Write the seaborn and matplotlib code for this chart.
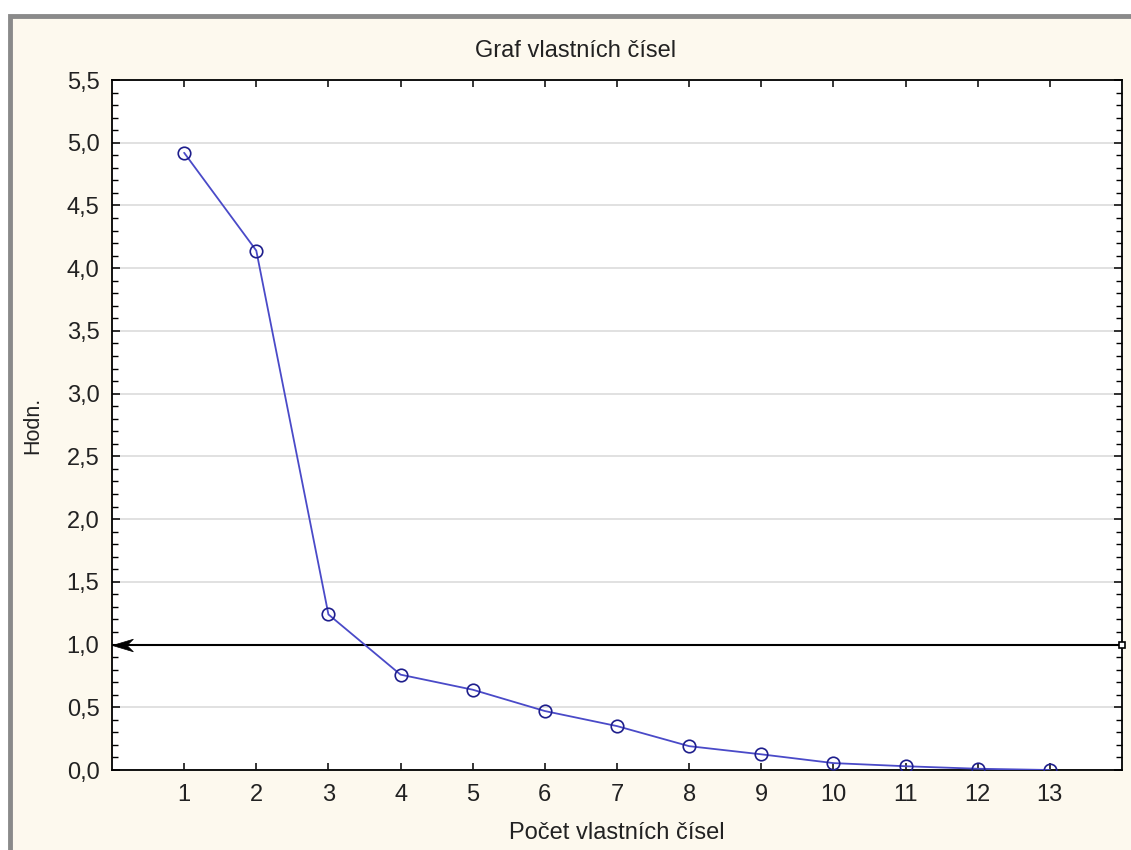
import numpy as np
import seaborn as sns
import matplotlib.pyplot as plt
from matplotlib.patches import Rectangle
from matplotlib.path import Path
from matplotlib.ticker import MultipleLocator, FuncFormatter


# scree plot values
components = [1, 2, 3, 4, 5, 6, 7, 8, 9, 10, 11, 12, 13]
eigenvalues = [4.92, 4.14, 1.24, 0.76, 0.64, 0.47, 0.35, 0.19, 0.125, 0.055, 0.03, 0.01, 0.0]
kaiser_limit = 1.0

title = "Graf vlastních čísel"
x_label = "Počet vlastních čísel"
y_label = "Hodn."

cream = "#fdf9ee"
line_color = "#4a4ac8"
edge_color = "#1e1e8c"


def arrow_marker():
    # barbed arrowhead, tip at the origin pointing left
    verts = [(0, 0), (2, 0.6), (1.4, 0), (2, -0.6), (0, 0)]
    codes = [Path.MOVETO, Path.LINETO, Path.LINETO, Path.LINETO, Path.CLOSEPOLY]
    return Path(verts, codes)


def main():
    sns.set_style("white")
    plt.rcParams['font.family'] = ['Liberation Sans', 'DejaVu Sans']

    fig = plt.figure(figsize=(11.31, 8.5), dpi=100)
    fig.patch.set_facecolor("white")
    # window frame of the original screenshot
    frame = Rectangle((10 / 1131, -0.1), 1.2, (850 - 16) / 850 + 0.1,
                      transform=fig.transFigure, facecolor=cream,
                      edgecolor="#8a8a8a", lw=3.5, zorder=-5)
    fig.add_artist(frame)

    ax = fig.add_axes([112 / 1131, 80 / 850, 1010 / 1131, 690 / 850])
    ax.set_facecolor("white")

    sns.lineplot(x=components, y=eigenvalues, ax=ax, color=line_color, lw=1.3,
                 marker="o", markersize=9, markerfacecolor="none",
                 markeredgecolor=edge_color, markeredgewidth=1.2, zorder=4)

    ax.set_xlim(0, 14)
    ax.set_ylim(0, 5.5)
    ax.set_xticks(components)
    ax.yaxis.set_major_locator(MultipleLocator(0.5))
    ax.yaxis.set_minor_locator(MultipleLocator(0.1))
    ax.yaxis.set_major_formatter(FuncFormatter(lambda v, p: f"{v:.1f}".replace(".", ",")))
    ax.grid(axis="y", which="major", color="#d9d9d9", lw=1.1)
    ax.set_axisbelow(True)

    ax.tick_params(axis="both", which="both", direction="in", colors="black",
                   labelcolor="#222222", labelsize=17)
    ax.tick_params(axis="x", which="major", top=True, bottom=True, length=5, width=1.1, pad=10)
    ax.tick_params(axis="y", which="major", left=True, right=True, length=6, width=1.1, pad=9)
    ax.tick_params(axis="y", which="minor", left=True, right=True, length=4, width=1.0)
    for s in ax.spines.values():
        s.set_color("black")
        s.set_linewidth(1.3)

    # Kaiser criterion line with the arrow on the left
    ax.axhline(kaiser_limit, color="black", lw=1.5, zorder=3)
    ax.plot([0], [kaiser_limit], marker=arrow_marker(), ms=30, color="black",
            mec="black", mew=0.5, clip_on=False, zorder=6)
    ax.plot([14], [kaiser_limit], marker="s", ms=4, mfc="white", mec="black",
            mew=1.2, clip_on=False, zorder=6)

    ax.set_title(title, fontsize=17, color="#222222", x=0.459, y=1.033, pad=0)
    ax.set_xlabel(x_label, fontsize=17, color="#222222")
    ax.set_ylabel(y_label, fontsize=15.5, color="#222222")
    ax.xaxis.set_label_coords(0.5, -0.075)
    ax.yaxis.set_label_coords(-0.068, 0.5)

    fig.savefig("out.png", dpi=100, facecolor=fig.get_facecolor())


if __name__ == '__main__':
    main()
